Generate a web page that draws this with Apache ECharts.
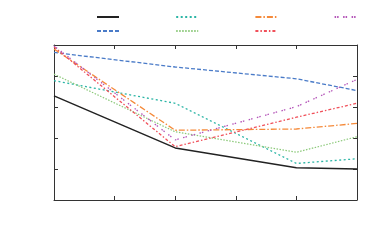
<!DOCTYPE html>
<html><head><meta charset="utf-8">
<script src="https://cdn.jsdelivr.net/npm/echarts@6/dist/echarts.min.js"></script>
<style>html,body{margin:0;padding:0;background:#fff}#c{width:389px;height:245px}</style>
</head><body><div id="c"></div>
<script>
const xValues = [0, 2, 4, 5];
const seriesNames = ['s1','s2','s3','s4','s5','s6','s7'];
const s1 = [3.36, 1.68, 1.04, 1.00];
const s2 = [4.76, 4.29, 3.91, 3.53];
const s3 = [3.85, 3.12, 1.18, 1.33];
const s4 = [4.06, 2.20, 1.54, 2.04];
const s5 = [4.87, 2.25, 2.29, 2.47];
const s6 = [4.94, 1.72, 2.67, 3.12];
const s7 = [4.97, 1.94, 3.01, 3.89];
const values = [s1, s2, s3, s4, s5, s6, s7];
const colors = ['#222222','#4a7bc8','#2bb5a5','#8cc97a','#f58a3a','#f0505a','#b455b8'];
const widths = [1.5, 1.3, 1.3, 1.2, 1.3, 1.3, 1.3];
const dashes = ['solid', [4,2], [2,2.5], [1.5,1.5], [6,2,1.5,2], [3,2,1.5,2], [1.5,1,1.5,4.5]];

const chart = echarts.init(document.getElementById('c'), null, {renderer:'canvas'});
const axisCommon = {
  min: 0, max: 5, interval: 1,
  axisLine: {show: true, onZero: false, lineStyle: {color: '#333', width: 1}},
  axisTick: {show: true, inside: true, length: 4, lineStyle: {color: '#333'}},
  axisLabel: {show: false},
  splitLine: {show: false}
};
const legendCommon = {
  orient: 'horizontal', itemWidth: 22, itemHeight: 10, itemGap: 55.2, padding: 0,
  formatter: function(){ return ''; }, textStyle: {fontSize: 1},
  itemStyle: {opacity: 0}, selectedMode: false
};
chart.setOption({
  animation: false,
  backgroundColor: '#fff',
  grid: {left: 54, top: 45, right: 32, bottom: 45},
  legend: [
    Object.assign({}, legendCommon, {left: 96, top: 12, data: ['s1','s3','s5','s7']}),
    Object.assign({}, legendCommon, {left: 96, top: 26, data: ['s2','s4','s6']})
  ],
  xAxis: [
    Object.assign({type: 'value', position: 'bottom'}, axisCommon),
    Object.assign({type: 'value', position: 'top'}, axisCommon)
  ],
  yAxis: [
    Object.assign({type: 'value', position: 'left'}, axisCommon),
    Object.assign({type: 'value', position: 'right'}, axisCommon)
  ],
  series: values.map((v, i) => ({
    name: seriesNames[i], type: 'line', symbol: 'none',
    data: v.map((y, j) => [xValues[j], y]),
    itemStyle: {color: colors[i]},
    lineStyle: {color: colors[i], width: widths[i], type: dashes[i]}
  }))
});
</script></body></html>
